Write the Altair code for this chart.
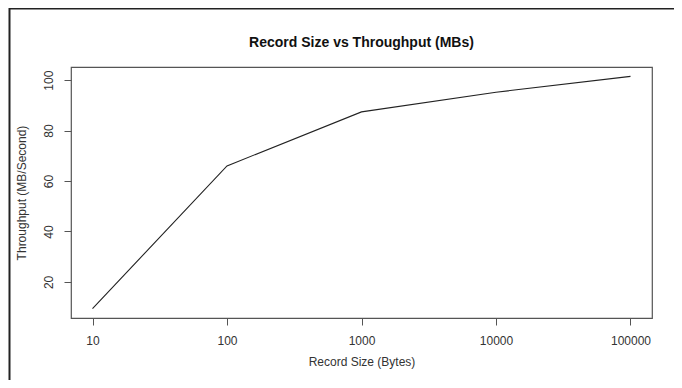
import altair as alt
import pandas as pd

record_size = [10, 100, 1000, 10000, 100000]
throughput = [9.4, 66.0, 87.4, 95.2, 101.5]
x_ticks = [10, 100, 1000, 10000, 100000]
y_ticks = [20, 40, 60, 80, 100]
title_text = "Record Size vs Throughput (MBs)"

df = pd.DataFrame({"size": record_size, "tp": throughput})

W, H = 581, 251
PAD_R, PAD_B = 22, 62

line = alt.Chart(df).mark_line(color="#222222", strokeWidth=1.1).encode(
    x=alt.X("size:Q",
            scale=alt.Scale(type="log", domain=[6.92, 144500], nice=False),
            axis=alt.Axis(values=x_ticks, format="d", title="Record Size (Bytes)",
                          domain=False, tickSize=7, tickColor="#555555",
                          labelPadding=10, labelFontSize=12, labelColor="#333333",
                          labelFont="Liberation Sans", titleFont="Liberation Sans",
                          titleFontSize=12, titleFontWeight="normal", titleColor="#333333",
                          titlePadding=10, grid=False)),
    y=alt.Y("tp:Q",
            scale=alt.Scale(domain=[5.7, 105.2], nice=False, zero=False),
            axis=alt.Axis(values=y_ticks, title="Throughput (MB/Second)",
                          domain=False, tickSize=7, tickColor="#555555",
                          labelAngle=-90, labelAlign="center", labelBaseline="bottom",
                          labelPadding=9, labelFontSize=12, labelColor="#333333",
                          labelFont="Liberation Sans", titleFont="Liberation Sans",
                          titleFontSize=12, titleFontWeight="normal", titleColor="#333333",
                          titlePadding=14, grid=False)),
)

title_mark = alt.Chart(df.head(1)).mark_text(
    font="Liberation Sans", fontSize=14, fontWeight="bold", color="#111111",
    align="center", baseline="middle", clip=False
).encode(x=alt.value(W / 2), y=alt.value(-24), text=alt.value(title_text))

frame_top = alt.Chart(df.head(1)).mark_rule(color="#222222", strokeWidth=2, clip=False).encode(
    x=alt.value(-62), x2=alt.value(W + PAD_R), y=alt.value(-58.5)
)
frame_left = alt.Chart(df.head(1)).mark_rule(color="#222222", strokeWidth=2, clip=False).encode(
    x=alt.value(-61.5), y=alt.value(-59), y2=alt.value(H + PAD_B)
)

chart = alt.layer(line, title_mark, frame_top, frame_left).properties(
    width=W, height=H,
    background="white",
    autosize=alt.AutoSizeParams(type="none"),
    padding={"left": 63, "top": 59, "right": PAD_R, "bottom": PAD_B},
).configure_view(stroke="#555555", strokeWidth=1.2)

chart.save("out.html", embed_options={"renderer": "svg", "actions": False})
